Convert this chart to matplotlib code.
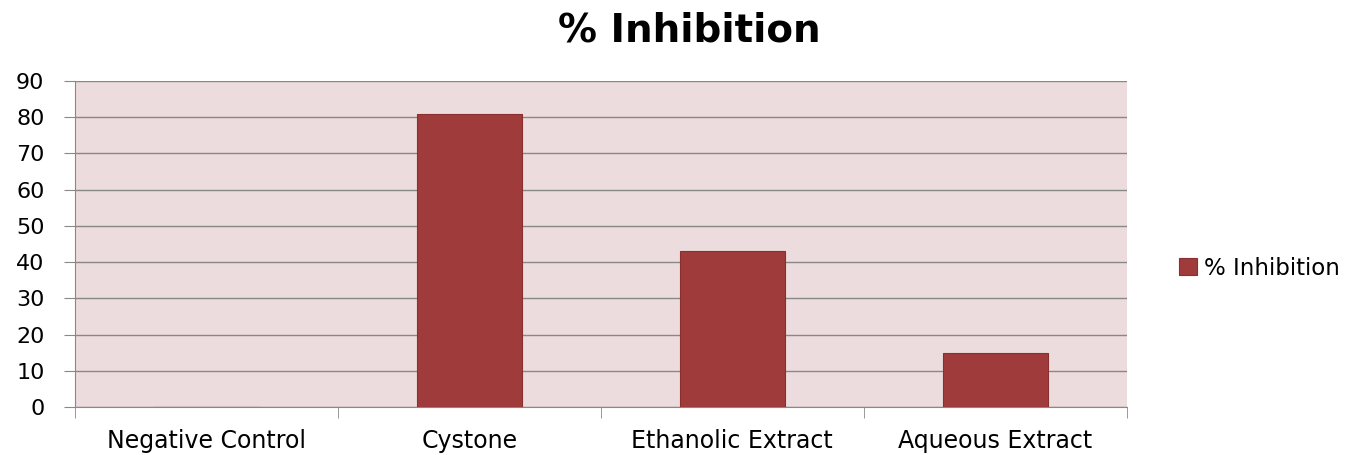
import numpy as np
import matplotlib.pyplot as plt

categories = ["Negative Control", "Cystone", "Ethanolic Extract", "Aqueous Extract"]
values = [0, 81, 43, 15]
series_name = "% Inhibition"
y_ticks = [0, 10, 20, 30, 40, 50, 60, 70, 80, 90]

plt.rcParams['font.family'] = ['DejaVu Sans']

fig = plt.figure(figsize=(13.57, 4.55), dpi=100)
ax = fig.add_axes([0.0553, 0.1055, 0.775, 0.7165])

x = np.arange(len(categories))
ax.set_facecolor("#EDDCDD")
ax.bar(x, values, width=0.4, color="#A03B3B", edgecolor="#8A2E2E",
       linewidth=0.8, label=series_name, zorder=3)

ax.set_ylim(0, 90)
ax.set_yticks(y_ticks)
ax.set_xlim(-0.5, len(categories) - 0.5)
ax.set_xticks(x)
ax.set_xticklabels(categories)
ax.set_xticks(np.arange(-0.5, len(categories)), minor=True)
ax.tick_params(axis="x", which="major", length=0, pad=16, labelsize=17)
ax.tick_params(axis="x", which="minor", length=8, color="#888888", direction="out")
ax.tick_params(axis="y", length=8, color="#888888", labelsize=16, pad=14)
for lbl in ax.get_yticklabels():
    lbl.set_fontstretch("expanded")

ax.grid(axis="y", color="#888888", linewidth=1, zorder=1)
for s in ["top", "right"]:
    ax.spines[s].set_visible(False)
ax.spines["left"].set_color("#888888")
ax.spines["bottom"].set_color("#888888")

fig.text(0.508, 0.934, series_name, ha="center", va="center",
         fontsize=28, fontweight="bold")

ax.legend(loc="center left", bbox_to_anchor=(1.03, 0.426), frameon=False,
          fontsize=16.5, handlelength=0.8, handleheight=0.8, handletextpad=0.3)

fig.savefig("out.png", dpi=100)
